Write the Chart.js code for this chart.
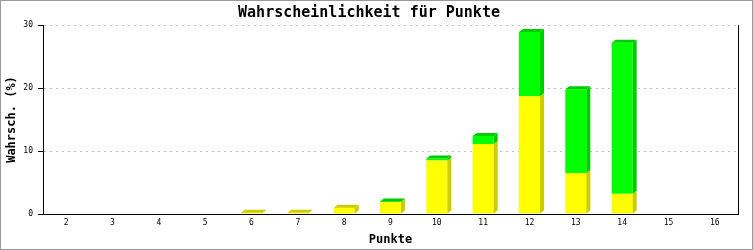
<!DOCTYPE html>
<html>
<head>
<meta charset="utf-8">
<script src="https://cdn.jsdelivr.net/npm/chart.js@4.4.0/dist/chart.umd.min.js"></script>
<style>
  html, body { margin: 0; padding: 0; background: #fff; }
</style>
</head>
<body>
<canvas id="chart" width="753" height="250"></canvas>
<script>
// Werte (Prozent)
const punkte = ['2', '3', '4', '5', '6', '7', '8', '9', '10', '11', '12', '13', '14', '15', '16'];
const gelb = [0, 0, 0, 0, 0.2, 0.2, 1.0, 1.9, 8.5, 11.1, 18.7, 6.5, 3.2, 0, 0];
const gruen = [0, 0, 0, 0, 0, 0, 0, 0.1, 0.3, 1.3, 10.2, 13.3, 24.0, 0, 0];
const yTicks = [0, 10, 20, 30];

const mono = 'DejaVu Sans Mono';

// Seiten- und Deckflaechen fuer den 3D-Effekt
const bar3d = {
    id: 'bar3d',
    afterDatasetsDraw(chart) {
        const ctx = chart.ctx;
        const dx = 4, dy = 3;
        const sides = ['#cccc00', '#00cc00'];
        chart.data.datasets.forEach((ds, di) => {
            const meta = chart.getDatasetMeta(di);
            meta.data.forEach((bar, i) => {
                if (!ds.data[i]) return;
                const p = bar.getProps(['x', 'y', 'base', 'width'], true);
                const l = p.x - p.width / 2, r = p.x + p.width / 2;
                const top = Math.min(p.y, p.base), bot = Math.max(p.y, p.base);
                ctx.save();
                ctx.fillStyle = sides[di];
                ctx.beginPath();
                ctx.moveTo(r, bot);
                ctx.lineTo(r, top);
                ctx.lineTo(r + dx, top - dy);
                ctx.lineTo(r + dx, bot - dy);
                ctx.closePath();
                ctx.fill();
                if (di === 1 || !gruen[i]) {
                    ctx.beginPath();
                    ctx.moveTo(l, top);
                    ctx.lineTo(l + dx, top - dy);
                    ctx.lineTo(r + dx, top - dy);
                    ctx.lineTo(r, top);
                    ctx.closePath();
                    ctx.fill();
                }
                ctx.restore();
            });
        });
    },
    afterDraw(chart) {
        const ctx = chart.ctx;
        const a = chart.chartArea;
        ctx.save();
        // rechte Achsenlinie
        ctx.strokeStyle = '#000';
        ctx.lineWidth = 1;
        ctx.beginPath();
        ctx.moveTo(Math.round(a.right) + 0.5, a.top);
        ctx.lineTo(Math.round(a.right) + 0.5, a.bottom);
        ctx.stroke();
        // Rahmen
        ctx.strokeStyle = '#999';
        ctx.strokeRect(0.5, 0.5, chart.width - 1, chart.height - 1);
        ctx.restore();
    }
};

const ctx = document.getElementById('chart').getContext('2d');
const chart = new Chart(ctx, {
    type: 'bar',
    data: {
        labels: punkte,
        datasets: [
            {
                label: 'gelb',
                data: gelb,
                backgroundColor: '#ffff00',
                borderWidth: 0,
                barPercentage: 0.454,
                categoryPercentage: 1.0
            },
            {
                label: 'gruen',
                data: gruen,
                backgroundColor: '#00ff00',
                borderWidth: 0,
                barPercentage: 0.454,
                categoryPercentage: 1.0
            }
        ]
    },
    options: {
        responsive: false,
        animation: false,
        layout: { padding: { left: 0, right: 15, top: 0, bottom: 0 } },
        plugins: {
            legend: { display: false },
            tooltip: { enabled: false },
            title: {
                display: true,
                text: 'Wahrscheinlichkeit für Punkte',
                color: '#000',
                font: { family: mono, size: 15, weight: 'bold', lineHeight: 1.2 },
                padding: { top: 4, bottom: 3 }
            }
        },
        scales: {
            x: {
                stacked: true,
                grid: { display: false, drawTicks: false },
                border: { display: true, color: '#000', width: 1 },
                ticks: {
                    color: '#000',
                    padding: 4,
                    maxRotation: 0,
                    font: { family: mono, size: 8 }
                },
                title: {
                    display: true,
                    text: 'Punkte',
                    color: '#000',
                    font: { family: mono, size: 12, weight: 'bold', lineHeight: 1.2 },
                    padding: { top: 0, bottom: 3 }
                },
                afterFit(scale) { scale.height = 36; }
            },
            y: {
                stacked: true,
                min: 0,
                max: 30,
                afterBuildTicks(scale) { scale.ticks = yTicks.map(v => ({ value: v })); },
                grid: {
                    color: c => (c.tick && c.tick.value === 0) ? 'rgba(0,0,0,0)' : '#c0c0c0',
                    tickColor: '#000',
                    tickBorderDash: [],
                    tickLength: 5
                },
                border: { display: true, color: '#000', width: 1, dash: [2, 4] },
                ticks: {
                    color: '#000',
                    padding: 5,
                    font: { family: mono, size: 8 }
                },
                title: {
                    display: true,
                    text: 'Wahrsch. (%)',
                    color: '#000',
                    font: { family: mono, size: 12, weight: 'bold', lineHeight: 1.2 },
                    padding: { top: 5, bottom: 0 }
                },
                afterFit(scale) { scale.width = 43; }
            }
        }
    },
    plugins: [bar3d]
});
</script>
</body>
</html>
